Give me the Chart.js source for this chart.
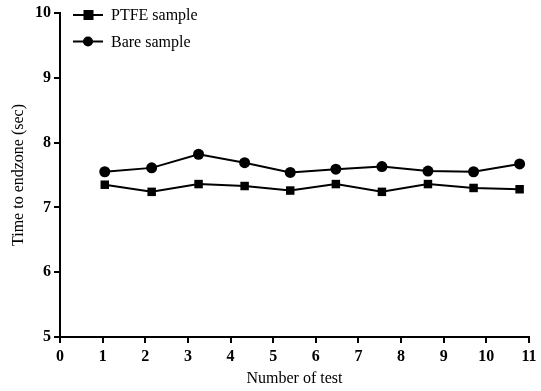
<!DOCTYPE html>
<html lang="en">

<head>
  <meta charset="UTF-8">
  <title>Time to endzone</title>
  <script src="https://cdn.jsdelivr.net/npm/chart.js"></script>
  <style>
    html, body { margin: 0; padding: 0; background: #fff; }
    #box { width: 541px; height: 391px; }
  </style>
</head>

<body>
  <div id="box">
    <canvas id="grafico"></canvas>
  </div>
<script>
  // valores
  const testes = [1.05, 2.15, 3.25, 4.33, 5.4, 6.47, 7.55, 8.63, 9.7, 10.78];
  const ptfe = [7.35, 7.24, 7.36, 7.33, 7.26, 7.36, 7.24, 7.36, 7.30, 7.28];
  const bare = [7.55, 7.61, 7.82, 7.69, 7.54, 7.59, 7.63, 7.56, 7.55, 7.67];
  const xTicks = [0, 1, 2, 3, 4, 5, 6, 7, 8, 9, 10, 11];
  const yTicks = [5, 6, 7, 8, 9, 10];
  const nomes = ['PTFE sample', 'Bare sample'];

  const serif = "'Liberation Serif', 'Times New Roman', serif";

  function pontos(valores) {
    return testes.map((x, i) => ({ x: x, y: valores[i] }));
  }

  // legenda desenhada dentro da area do grafico (linha + marcador + texto)
  const legendaInterna = {
    id: 'legendaInterna',
    afterDraw(chart) {
      const c = chart.ctx;
      const area = chart.chartArea;
      chart.data.datasets.forEach((ds, i) => {
        const y = area.top + 2 + i * 26.5;
        const x0 = area.left + 13;
        c.save();
        c.strokeStyle = '#000';
        c.lineWidth = 2;
        c.beginPath();
        c.moveTo(x0, y);
        c.lineTo(x0 + 30, y);
        c.stroke();
        c.fillStyle = '#000';
        if (ds.pointStyle === 'rect') {
          c.fillRect(x0 + 10.5, y - 5, 10, 10);
        } else {
          c.beginPath();
          c.arc(x0 + 15, y, 5, 0, Math.PI * 2);
          c.fill();
        }
        c.font = '16px ' + serif;
        c.textBaseline = 'middle';
        c.fillText(ds.label, x0 + 38, y + 1);
        c.restore();
      });
    }
  };

  const grafico = new Chart(document.getElementById('grafico'), {
    type: 'line',
    data: {
      datasets: [
        {
          label: nomes[0],
          data: pontos(ptfe),
          borderColor: '#000',
          backgroundColor: '#000',
          borderWidth: 2,
          pointStyle: 'rect',
          pointRadius: 6,
          pointBorderWidth: 0,
          tension: 0
        },
        {
          label: nomes[1],
          data: pontos(bare),
          borderColor: '#000',
          backgroundColor: '#000',
          borderWidth: 2,
          pointStyle: 'circle',
          pointRadius: 5.5,
          pointBorderWidth: 0,
          tension: 0
        }
      ]
    },
    options: {
      responsive: true,
      maintainAspectRatio: false,
      animation: false,
      layout: { padding: { top: 13, right: 12, left: 0, bottom: 0 } },
      plugins: {
        legend: { display: false },
        tooltip: { enabled: false }
      },
      scales: {
        x: {
          type: 'linear',
          min: 0,
          max: 11,
          afterBuildTicks: axis => { axis.ticks = xTicks.map(v => ({ value: v })); },
          afterFit: axis => { axis.height = 54; },
          border: { color: '#000', width: 2 },
          grid: { drawOnChartArea: false, drawTicks: true, tickLength: 6, color: '#000', lineWidth: 2 },
          ticks: {
            color: '#000',
            padding: 4,
            maxRotation: 0,
            font: { family: serif, size: 16, weight: 'bold' }
          },
          title: {
            display: true,
            text: 'Number of test',
            color: '#000',
            padding: { top: 0, bottom: 3 },
            font: { family: serif, size: 16 }
          }
        },
        y: {
          min: 5,
          max: 10,
          afterBuildTicks: axis => { axis.ticks = yTicks.map(v => ({ value: v })); },
          afterFit: axis => { axis.width = 60; },
          border: { color: '#000', width: 2 },
          grid: { drawOnChartArea: false, drawTicks: true, tickLength: 6, color: '#000', lineWidth: 2 },
          ticks: {
            color: '#000',
            padding: 3,
            font: { family: serif, size: 16, weight: 'bold' }
          },
          title: {
            display: true,
            text: 'Time to endzone (sec)',
            color: '#000',
            padding: { top: 9, bottom: 0 },
            font: { family: serif, size: 16 }
          }
        }
      }
    },
    plugins: [legendaInterna]
  });
</script>
</body>

</html>
